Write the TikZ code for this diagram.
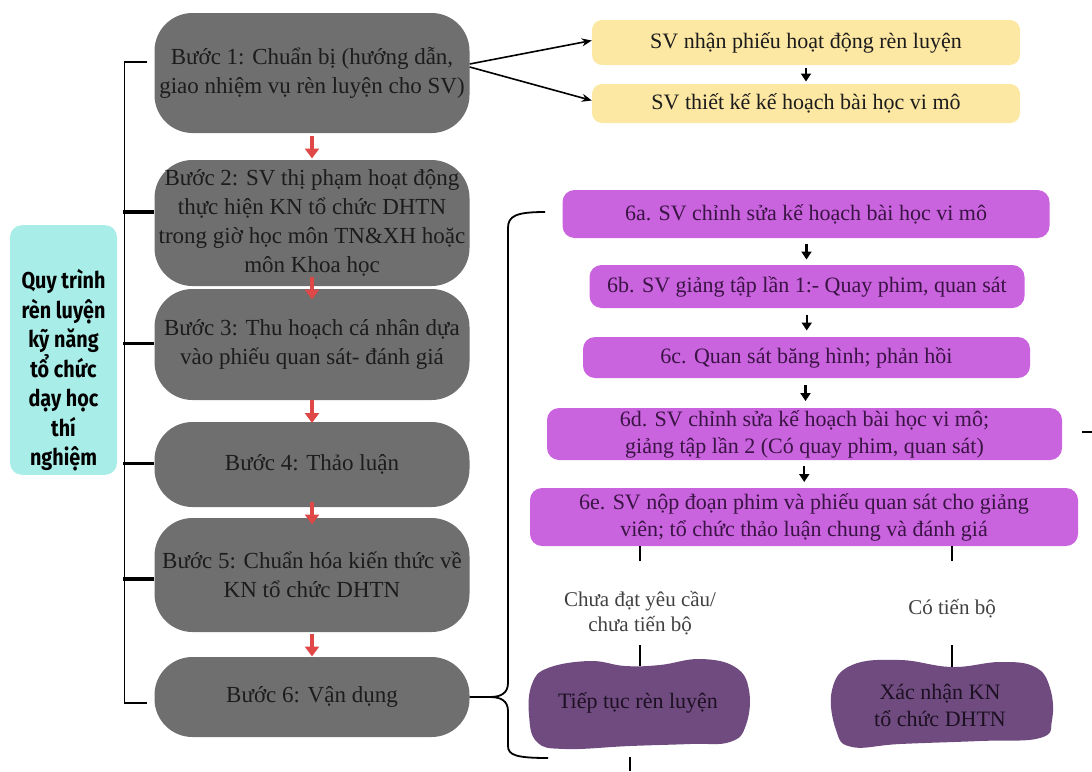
\documentclass[tikz,border=0pt]{standalone}
\usepackage{fontspec}
\setmainfont{Liberation Serif}
\newfontfamily\quyfont{Fira Sans}[FakeStretch=0.86]
\usetikzlibrary{arrows.meta,calc}
\definecolor{stepgray}{HTML}{6F6F6F}
\definecolor{steptext}{HTML}{1C1C1C}
\definecolor{quycyan}{HTML}{A8EDE8}
\definecolor{svyellow}{HTML}{FCE7A3}
\definecolor{sixpurple}{HTML}{C963DE}
\definecolor{sixtext}{HTML}{3A1444}
\definecolor{blobpurple}{HTML}{6F4B7F}
\definecolor{blobtext}{HTML}{1D1022}
\definecolor{arrowred}{HTML}{E04848}
\begin{document}
\begin{tikzpicture}[x=1pt,y=-1pt,
    stepbox/.style={fill=stepgray,rounded corners=38pt,minimum width=315pt,align=center,text=steptext,font=\fontsize{23}{29}\selectfont,inner sep=2pt},
    svbox/.style={fill=svyellow,rounded corners=10pt,minimum width=428pt,text=steptext,font=\fontsize{22}{27}\selectfont},
    sixbox/.style={fill=sixpurple,rounded corners=12pt,align=center,text=sixtext,font=\fontsize{22}{27}\selectfont,inner sep=2pt},
    blobtxt/.style={align=center,text=blobtext,font=\fontsize{22}{27}\selectfont},
    lbl/.style={align=center,text=black!75,font=\fontsize{21}{25}\selectfont},
    redarrow/.style={draw=arrowred,line width=3.5pt,-{Triangle[length=10pt,width=14pt]}},
    smallarrow/.style={line width=2.2pt,-{Triangle[length=8pt,width=10pt]}},
    linkarrow/.style={line width=1.6pt,-{Stealth[length=10pt,width=8pt]}},
    thinline/.style={line width=1.3pt},
    tickline/.style={line width=3.5pt}]
\useasboundingbox (0,0) rectangle (1092,771);

% quy trinh
\node[fill=quycyan,rounded corners=12pt,minimum width=107pt,minimum height=246pt,align=center,
      font=\quyfont\bfseries\fontsize{23}{29.5}\selectfont] (q) at (63.5,350)
    {\mbox{}\\[31pt]Quy trình\\rèn luyện\\kỹ năng\\tổ chức\\dạy học\\thí\\nghiệm};

% cac buoc
\foreach \i/\yc/\hh/\txt in {
    1/73/120/{Bước 1: Chuẩn bị (hướng dẫn,\\giao nhiệm vụ rèn luyện cho SV)},
    2/223/126/{Bước 2: SV thị phạm hoạt động\\thực hiện KN tổ chức DHTN\\trong giờ học môn TN\&XH hoặc\\môn Khoa học},
    3/344.5/111/{Bước 3: Thu hoạch cá nhân dựa\\vào phiếu quan sát- đánh giá},
    4/464.5/85/{Bước 4: Thảo luận},
    5/575/114/{Bước 5: Chuẩn hóa kiến thức về\\KN tổ chức DHTN},
    6/697/80/{Bước 6: Vận dụng}}
    \node[stepbox,minimum height=\hh pt] (b\i) at (312,\yc) {\txt};

\foreach \i/\j in {1/2,2/3,3/4,4/5,5/6}
    \draw[redarrow] ($(b\i.south)!0.5!(b\j.north)+(0,-11)$) -- ++(0,23);

% ngoac trai
\draw[thinline] ([xshift=-7pt,yshift=11pt]b1.west) -- ++(-23,0) |- ([xshift=-7pt,yshift=-6pt]b6.west);
\foreach \i/\s in {2/11,3/1,4/1,5/-4}
    \draw[tickline] ([yshift=\s pt]b\i.west) -- ++(-31,0);

% phieu SV
\node[svbox,minimum height=45pt] (y1) at (806,42.5) {SV nhận phiếu hoạt động rèn luyện};
\node[svbox,minimum height=39pt] (y2) at (806,103.5) {SV thiết kế kế hoạch bài học vi mô};
\draw[linkarrow] ([yshift=9pt]b1.east) -- ([yshift=2pt]y1.west);
\draw[linkarrow] ([yshift=6pt]b1.east) -- ([yshift=3pt]y2.west);
\draw[smallarrow] ($(y1.south)!0.5!(y2.north)+(0,-7)$) -- ++(0,14);

% buoc 6
\node[sixbox,minimum width=487pt,minimum height=48pt] (p6a) at (806,214) {6a. SV chỉnh sửa kế hoạch bài học vi mô};
\node[sixbox,minimum width=435pt,minimum height=43pt] (p6b) at (807,286.5) {6b. SV giảng tập lần 1:- Quay phim, quan sát};
\node[sixbox,minimum width=447pt,minimum height=41pt] (p6c) at (806.5,357.5) {6c. Quan sát băng hình; phản hồi};
\node[sixbox,minimum width=515pt,minimum height=52pt] (p6d) at (804.5,434) {6d. SV chỉnh sửa kế hoạch bài học vi mô;\\giảng tập lần 2 (Có quay phim, quan sát)};
\node[sixbox,minimum width=548pt,minimum height=58pt] (p6e) at (804,517) {6e. SV nộp đoạn phim và phiếu quan sát cho giảng\\viên; tổ chức thảo luận chung và đánh giá};
\foreach \i/\j in {a/b,b/c,c/d,d/e}
    \draw[smallarrow] ($(p6\i.south)!0.5!(p6\j.north)+(0,-8)$) -- ++(0,16);
\coordinate (rt) at (1092,432);
\draw[thinline] ([xshift=20pt]p6d.east |- rt) -- (rt);

% ngoac lon
\draw[thinline,line width=1.8pt] (b6.east) -- (490,697)
    .. controls (501,697) and (508,693) .. (508,683) -- (508,228)
    .. controls (508,216) and (516,212) .. (545,212);
\draw[thinline,line width=1.8pt] (490,697)
    .. controls (501,697) and (508,701) .. (508,711) -- (508,746)
    .. controls (508,755) and (516,758) .. (548,758);

% ket qua
\node[lbl] (l1) at (640,613) {Chưa đạt yêu cầu/\\chưa tiến bộ};
\node[lbl] (l2) at (952,609) {Có tiến bộ};
\fill[blobpurple] plot[smooth cycle,tension=0.7] coordinates {(548,668) (590,661) (625,666) (660,665) (700,659) (735,667) (749,690) (746,725) (730,742) (690,744) (630,746) (565,749) (537,742) (529,715) (532,684)};
\fill[blobpurple] plot[smooth cycle,tension=0.7] coordinates {(852,665) (900,660) (952,667) (1000,662) (1035,667) (1050,688) (1052,720) (1040,738) (980,741) (900,744) (852,747) (836,730) (832,690)};
\node[blobtxt] (r1) at (638,703) {Tiếp tục rèn luyện};
\node[blobtxt] (r2) at (940,705) {Xác nhận KN\\tổ chức DHTN};
\coordinate (tk) at (0,645);
\coordinate (bt) at (630,771);
\draw[thinline] (l1.north |- p6e.south) -- ++(0,15);
\draw[thinline] (l2.north |- p6e.south) -- ++(0,15);
\draw[thinline] (l1.south |- tk) -- ++(0,21);
\draw[thinline] (l2.south |- tk) -- ++(0,22);
\draw[thinline] (bt |- 0,757) -- (bt);
\end{tikzpicture}
\end{document}
